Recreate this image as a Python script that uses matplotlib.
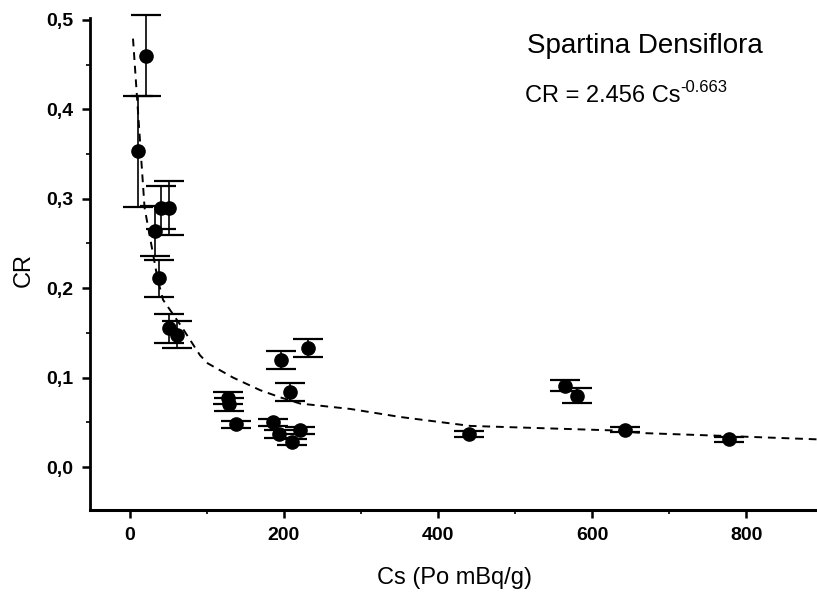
import numpy as np
import matplotlib.pyplot as plt
from matplotlib.ticker import MultipleLocator, FuncFormatter

# measured points (Cs in Po mBq/g, concentration ratio CR)
cs = [10, 21, 32, 38, 40, 51, 51, 61, 127, 128, 138, 186, 193, 196,
      208, 211, 221, 231, 440, 565, 580, 643, 778]
cr = [0.353, 0.460, 0.264, 0.211, 0.290, 0.290, 0.155, 0.148, 0.077, 0.070,
      0.048, 0.050, 0.037, 0.120, 0.084, 0.028, 0.041, 0.133, 0.037, 0.091,
      0.080, 0.042, 0.031]
cr_err = [0.062, 0.045, 0.028, 0.021, 0.024, 0.030, 0.016, 0.015, 0.007, 0.007,
          0.004, 0.004, 0.004, 0.010, 0.010, 0.003, 0.004, 0.010, 0.003, 0.006,
          0.008, 0.003, 0.003]

# power-law fit curve
fit_cs = [4, 19, 36, 43, 67, 91, 101, 134, 169, 195, 221, 286, 351, 442,
          627, 666, 766, 892]
fit_cr = [0.479, 0.29, 0.21, 0.187, 0.157, 0.125, 0.116, 0.100, 0.086, 0.078,
          0.071, 0.065, 0.056, 0.046, 0.041, 0.038, 0.035, 0.031]

plt.rcParams['font.family'] = ['Liberation Sans', 'DejaVu Sans']

fig = plt.figure(figsize=(8.17, 5.92), dpi=100)
ax = fig.add_axes([0.110, 0.1385, 0.890, 0.831])

ax.plot(fit_cs, fit_cr, '--', color='black', lw=1.4, dashes=(4, 3), zorder=1)
ax.errorbar(cs, cr, yerr=cr_err, fmt='o', color='black', ms=9.5, elinewidth=1.2,
            capsize=11, capthick=1.6, zorder=2, clip_on=False)

ax.set_xlim(-52, 892)
ax.set_ylim(-0.048, 0.502)

for s in ['top', 'right']:
    ax.spines[s].set_visible(False)
ax.spines['left'].set_linewidth(2)
ax.spines['bottom'].set_linewidth(2.2)

ax.xaxis.set_major_locator(MultipleLocator(200))
ax.xaxis.set_minor_locator(MultipleLocator(100))
ax.yaxis.set_major_locator(MultipleLocator(0.1))
ax.yaxis.set_minor_locator(MultipleLocator(0.05))
ax.yaxis.set_major_formatter(FuncFormatter(lambda v, p: f"{v:.1f}".replace('.', ',')))

ax.tick_params(which='major', direction='out', length=6, width=1.8, labelsize=14, pad=6)
ax.tick_params(which='minor', direction='out', length=3, width=1.2)
for lab in ax.get_xticklabels() + ax.get_yticklabels():
    lab.set_fontweight('bold')

ax.set_xlabel("Cs (Po mBq/g)", fontsize=17)
ax.xaxis.set_label_coords(0.502, -0.115)
ax.set_ylabel("CR", fontsize=17)
ax.yaxis.set_label_coords(-0.076, 0.488)

ax.text(0.763, 0.944, "Spartina Densiflora", transform=ax.transAxes,
        ha='center', va='center', fontsize=20)
ax.text(0.598, 0.841, "CR = 2.456 Cs", transform=ax.transAxes,
        ha='left', va='center', fontsize=17)
ax.text(0.812, 0.858, "-0.663", transform=ax.transAxes,
        ha='left', va='center', fontsize=12)

plt.savefig("out.png", dpi=100)
